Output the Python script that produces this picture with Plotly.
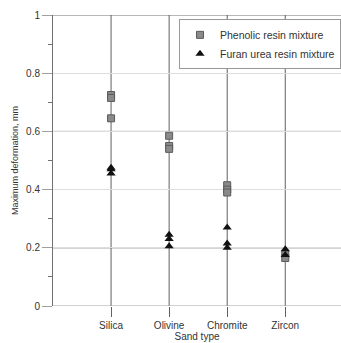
import plotly.graph_objects as go

categories = ["Silica", "Olivine", "Chromite", "Zircon"]
phenolic_x = ["Silica", "Silica", "Silica", "Olivine", "Olivine", "Olivine",
              "Chromite", "Chromite", "Chromite", "Zircon", "Zircon"]
phenolic_y = [0.725, 0.715, 0.645, 0.585, 0.55, 0.54, 0.415, 0.40, 0.39, 0.18, 0.165]
furan_x = ["Silica", "Silica", "Silica", "Olivine", "Olivine", "Olivine",
           "Chromite", "Chromite", "Chromite", "Zircon", "Zircon"]
furan_y = [0.475, 0.47, 0.455, 0.245, 0.23, 0.205, 0.27, 0.215, 0.20, 0.195, 0.175]
y_ticks = [0, 0.2, 0.4, 0.6, 0.8, 1.0]
y_labels = ["0", "0.2", "0.4", "0.6", "0.8", "1"]

pos = {c: i + 1 for i, c in enumerate(categories)}

fig = go.Figure()
fig.add_trace(go.Scatter(
    x=[pos[c] for c in phenolic_x], y=phenolic_y, mode="markers",
    name="Phenolic resin mixture",
    marker=dict(symbol="square", size=7, color="#8a8a8a",
                line=dict(color="#5a5a5a", width=1))))
fig.add_trace(go.Scatter(
    x=[pos[c] for c in furan_x], y=furan_y, mode="markers",
    name="Furan urea resin mixture",
    marker=dict(symbol="triangle-up", size=8, color="#111111",
                line=dict(color="#111111", width=0))))

shapes = []
for v in [0.2, 0.6, 1.0]:
    shapes.append(dict(type="line", xref="paper", x0=0, x1=1, yref="y", y0=v, y1=v,
                       line=dict(color="#707070", width=1), layer="below"))
for c in categories:
    shapes.append(dict(type="line", xref="x", x0=pos[c], x1=pos[c], yref="paper", y0=0, y1=1,
                       line=dict(color="#606060", width=1), layer="below"))

fig.update_layout(
    width=341, height=343,
    margin=dict(l=53, r=0, t=15, b=37, autoexpand=False),
    paper_bgcolor="white", plot_bgcolor="white",
    font=dict(family="Liberation Sans, Arial, sans-serif", color="#333333", size=9),
    showlegend=True,
    legend=dict(x=1, y=0.985, xanchor="right", yanchor="top",
                bgcolor="white", bordercolor="#999999", borderwidth=1,
                font=dict(size=10.5, color="#333333"), tracegroupgap=0, itemwidth=30),
    shapes=shapes,
    xaxis=dict(range=[0, 4.96], tickvals=[pos[c] for c in categories], ticktext=categories,
               showgrid=False, zeroline=False, showline=False, automargin=False,
               ticks="outside", ticklen=10, tickcolor="#606060", tickwidth=1,
               title=dict(text="Sand type", font=dict(size=10, color="#333333"), standoff=2),
               tickfont=dict(size=10, color="#333333")),
    yaxis=dict(range=[0, 1], tickvals=y_ticks, ticktext=y_labels, automargin=False,
               showgrid=True, gridcolor="#dddddd", gridwidth=1,
               zeroline=False, showline=True, linecolor="#707070", linewidth=1,
               ticks="outside", ticklen=10, tickcolor="#a0a0a0",
               minor=dict(ticks="outside", dtick=0.1, ticklen=4, tickcolor="#707070", showgrid=False),
               title=dict(text="Maximum deformation, mm", font=dict(size=9, color="#333333"), standoff=5),
               tickfont=dict(size=10, color="#333333")),
)
fig.add_shape(type="line", xref="paper", x0=0, x1=1, yref="y", y0=0, y1=0,
              line=dict(color="#a0a0a0", width=1))
fig.write_html("out.html", config={"displayModeBar": False},
               post_script="document.body.style.margin='0';document.body.style.overflow='hidden';")
